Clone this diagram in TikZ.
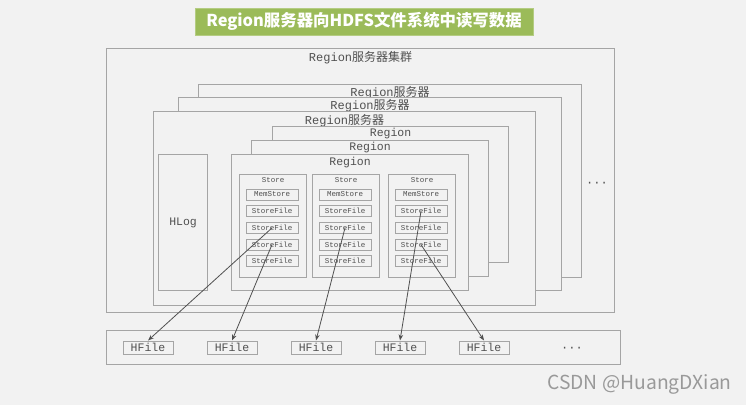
\documentclass[tikz,border=0pt]{standalone}
\usepackage{fontspec}
\usepackage{tikz}
\usetikzlibrary{positioning, arrows.meta}
\setmainfont{Liberation Mono}
\newfontfamily\cjk{Noto Sans CJK SC}
\newcommand{\zh}[1]{{\cjk #1}}
\definecolor{bgcol}{RGB}{242, 242, 242}
\definecolor{boxline}{RGB}{165, 165, 165}
\definecolor{textgray}{RGB}{80, 80, 80}
\definecolor{titlegreen}{RGB}{155, 187, 89}

\begin{document}
\begin{tikzpicture}[
    x=1pt, y=-1pt,
    box/.style={rectangle, draw=boxline, line width=1.1pt, fill=bgcol, inner sep=0pt, anchor=north west},
    lbl/.style={inner sep=1pt, text=textgray, font=\fontsize{12}{12}\selectfont},
    small/.style={inner sep=1pt, text=textgray, font=\fontsize{7.5}{7.5}\selectfont},
    inbox/.style={rectangle, draw=boxline, line width=1pt, fill=bgcol, inner sep=0pt, minimum width=52pt, minimum height=11pt, text=textgray, font=\fontsize{7.5}{7.5}\selectfont},
    hfbox/.style={rectangle, draw=boxline, line width=1pt, fill=bgcol, inner sep=0pt, minimum width=50pt, minimum height=13pt, text=textgray, font=\fontsize{11.5}{11.5}\selectfont},
    arrow/.style={-{Stealth[length=6pt, width=4.5pt]}, line width=0.8pt, textgray},
    banner/.style={rectangle, fill=titlegreen, draw=titlegreen!75!white, line width=1pt, text=white, minimum width=338pt, minimum height=27pt, inner sep=0pt, font=\fontsize{16.4}{16.4}\selectfont\cjk\bfseries},
    wmark/.style={inner sep=0pt, text=gray!80, font=\fontsize{19.3}{19.3}\selectfont\cjk}
]
    % Background
    \fill[bgcol] (0,0) rectangle (746,405);
    \useasboundingbox (0,0) rectangle (746,405);

    % Title
    \node[banner] (banner) at (364,21.5) {Region服务器向HDFS文件系统中读写数据};

    % Cluster
    \node[box, minimum width=508pt, minimum height=264pt] (cluster) at (106,48) {};
    \node[lbl, below=2pt of cluster.north] (clustertitle) {Region\zh{服务器集群}};
    \node[lbl] (moresrv) at (597,184) {···};

    % Region servers
    \node[box, minimum width=383pt, minimum height=193pt] (srv3) at (198,84) {};
    \node[lbl, below=1pt of srv3.north] (srv3title) {Region\zh{服务器}};
    \node[box, minimum width=383pt, minimum height=193pt] (srv2) at (178,97) {};
    \node[lbl, below=1pt of srv2.north] (srv2title) {Region\zh{服务器}};
    \node[box, minimum width=382pt, minimum height=194pt] (srv1) at (153,111) {};
    \node[lbl, below=2pt of srv1.north] (srv1title) {Region\zh{服务器}};

    % Regions
    \node[box, minimum width=236pt, minimum height=136pt] (reg3) at (272,126) {};
    \node[lbl, font=\fontsize{11.5}{11.5}\selectfont, below=1pt of reg3.north] (reg3title) {Region};
    \node[box, minimum width=237pt, minimum height=136pt] (reg2) at (251,140) {};
    \node[lbl, font=\fontsize{11.5}{11.5}\selectfont, below=1pt of reg2.north] (reg2title) {Region};
    \node[box, minimum width=237pt, minimum height=136pt] (reg1) at (231,154) {};
    \node[lbl, font=\fontsize{11.5}{11.5}\selectfont, below=2pt of reg1.north] (reg1title) {Region};

    % HLog
    \node[box, minimum width=49pt, minimum height=136pt] (hlog) at (158,154) {};
    \node[lbl, font=\fontsize{11.5}{11.5}\selectfont] (hlogtitle) at (hlog.center) {HLog};

    % Stores
    \node[box, minimum width=67pt, minimum height=103pt] (st1) at (239,174) {};
    \node[small, below=2pt of st1.north] (st1title) {Store};
    \node[box, minimum width=67pt, minimum height=103pt] (st2) at (312,174) {};
    \node[small, below=2pt of st2.north] (st2title) {Store};
    \node[box, minimum width=67pt, minimum height=103pt] (st3) at (388,174) {};
    \node[small, below=2pt of st3.north] (st3title) {Store};

    % Store 1
    \node[inbox] (ms1) at (272,194.5) {MemStore};
    \node[inbox, below=4.7pt of ms1] (sf11) {StoreFile};
    \node[inbox, below=4.7pt of sf11] (sf12) {StoreFile};
    \node[inbox, below=4.7pt of sf12] (sf13) {StoreFile};
    \node[inbox, below=4.7pt of sf13] (sf14) {StoreFile};

    % Store 2
    \node[inbox] (ms2) at (345,194.5) {MemStore};
    \node[inbox, below=4.7pt of ms2] (sf21) {StoreFile};
    \node[inbox, below=4.7pt of sf21] (sf22) {StoreFile};
    \node[inbox, below=4.7pt of sf22] (sf23) {StoreFile};
    \node[inbox, below=4.7pt of sf23] (sf24) {StoreFile};

    % Store 3
    \node[inbox] (ms3) at (421,194.5) {MemStore};
    \node[inbox, below=4.7pt of ms3] (sf31) {StoreFile};
    \node[inbox, below=4.7pt of sf31] (sf32) {StoreFile};
    \node[inbox, below=4.7pt of sf32] (sf33) {StoreFile};
    \node[inbox, below=4.7pt of sf33] (sf34) {StoreFile};

    % HDFS
    \node[box, minimum width=514pt, minimum height=34pt] (hdfs) at (106,330) {};
    \node[hfbox] (hf1) at (148,347.5) {HFile};
    \node[hfbox, right=33pt of hf1] (hf2) {HFile};
    \node[hfbox, right=33pt of hf2] (hf3) {HFile};
    \node[hfbox, right=33pt of hf3] (hf4) {HFile};
    \node[hfbox, right=33pt of hf4] (hf5) {HFile};
    \node[lbl] (morehf) at (572,349) {···};

    % Arrows
    \draw[arrow] (sf12.center) -- (hf1.north);
    \draw[arrow] (sf13.center) -- (hf2.north);
    \draw[arrow] (sf22.center) -- (hf3.north);
    \draw[arrow] (sf31.center) -- (hf4.north);
    \draw[arrow] (sf33.center) -- (hf5.north);

    % Watermark
    \node[wmark] (watermark) at (639.5,384) {CSDN @HuangDXian};
\end{tikzpicture}
\end{document}
